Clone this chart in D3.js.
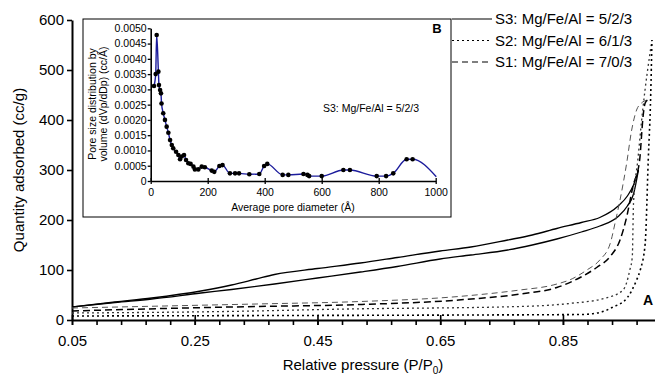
<!DOCTYPE html>
<html>
<head>
<meta charset="utf-8">
<script src="https://cdn.jsdelivr.net/npm/d3@7"></script>
<style>
  body { margin: 0; background: #fff; }
  svg { display: block; font-family: "Liberation Sans", Arial, sans-serif; }
</style>
</head>
<body>
<svg id="chart" width="655" height="381"></svg>
<script>
// main isotherm chart (P/P0, cc/g)
var xTickLabels = [0.05, 0.25, 0.45, 0.65, 0.85];
var yTickLabels = [0, 100, 200, 300, 400, 500, 600];

// S3 solid
var s3Ads = [[0.05,26],[0.12,35],[0.18,42],[0.26,54],[0.31,61],[0.38,72],[0.45,84],[0.52,96],[0.58,107],[0.65,122],[0.70,130],[0.76,140],[0.80,150],[0.84,162],[0.88,176],[0.91,188],[0.94,207],[0.955,228],[0.965,252],[0.973,300]];
var s3Des = [[0.05,26],[0.12,36],[0.18,44],[0.26,58],[0.31,70],[0.35,82],[0.38,91],[0.45,103],[0.52,114],[0.58,125],[0.65,138],[0.70,146],[0.76,160],[0.80,170],[0.84,183],[0.88,195],[0.91,205],[0.94,228],[0.955,248],[0.965,270],[0.973,300]];
// S1 dashed
var s1Des = [[0.05,24],[0.2,28],[0.35,32],[0.52,37],[0.68,47],[0.78,60],[0.834,70],[0.866,83],[0.889,100],[0.91,120],[0.927,153],[0.936,200],[0.943,240],[0.954,315],[0.962,380],[0.97,420],[0.978,434],[0.988,440]];
var s1Ads = [[0.05,18],[0.2,23],[0.35,27],[0.52,31],[0.68,40],[0.78,52],[0.84,65],[0.878,85],[0.905,105],[0.927,127],[0.943,160],[0.954,207],[0.964,267],[0.975,320],[0.978,367],[0.98,400],[0.984,434],[0.988,440]];
// S2 dotted
var s2Des = [[0.05,14],[0.3,17],[0.5,22],[0.78,27],[0.86,33],[0.92,44],[0.948,60],[0.959,100],[0.963,126],[0.965,234],[0.972,320],[0.98,420],[0.995,560]];
var s2Ads = [[0.05,8],[0.4,9],[0.7,10],[0.88,11],[0.91,15],[0.93,25],[0.955,45],[0.97,80],[0.976,100],[0.984,153],[0.989,320],[0.993,450],[0.995,560]];

var legendNames = ["S3: Mg/Fe/Al = 5/2/3", "S2: Mg/Fe/Al = 6/1/3", "S1: Mg/Fe/Al = 7/0/3"];

// inset: pore size distribution of S3
var poreDiam = [11.6,17.5,21,27,29,33,36,38,44,50,56,62,68,74,79,89,97,103,109,117,124,132,140,150,155,167,179,190,214,223,241,252,278,296,310,346,381,398,409,463,483,536,550,556,600,676,699,793,826,851,898,919,1002];
var poreVol = [0.00311,0.0035,0.00478,0.00358,0.00314,0.00298,0.00287,0.00254,0.00222,0.002,0.00178,0.00158,0.00134,0.00118,0.00107,0.00096,0.00085,0.00071,0.0008,0.00085,0.00069,0.00058,0.00056,0.00047,0.00038,0.00038,0.00047,0.00045,0.00034,0.0003,0.00049,0.00052,0.00025,0.00025,0.00025,0.00022,0.00023,0.00049,0.00056,0.0002,0.0002,0.00023,0.0002,0.00016,0.00016,0.00036,0.00036,0.00016,0.00016,0.00025,0.00071,0.00071,0.00014];
var insetXTicks = [0, 200, 400, 600, 800, 1000];
var insetYTicks = [0, 0.0005, 0.001, 0.0015, 0.002, 0.0025, 0.003, 0.0035, 0.004, 0.0045, 0.005];

var svg = d3.select("#chart");

var x = d3.scaleLinear().domain([0.05, 1.0]).range([72, 655]);
var y = d3.scaleLinear().domain([0, 600]).range([320, 20]);

var line = d3.line()
  .x(function(d){ return x(d[0]); })
  .y(function(d){ return y(d[1]); })
  .curve(d3.curveMonotoneX);

// x axis, minor ticks every 0.04
var minor = d3.range(0.05, 0.99, 0.04);
svg.append("g")
  .attr("transform", "translate(0,320)")
  .call(d3.axisBottom(x).tickValues(minor).tickSize(5).tickSizeOuter(0).tickFormat(""))
  .call(function(g){
    g.select(".domain").attr("stroke-width", 2);
    g.selectAll(".tick line").attr("stroke-width", 1.6);
  });
svg.append("g")
  .attr("transform", "translate(0,320)")
  .call(d3.axisBottom(x).tickValues(xTickLabels).tickSize(5).tickSizeOuter(0).tickFormat(d3.format(".2f")))
  .call(function(g){
    g.select(".domain").remove();
    g.selectAll(".tick line").attr("y1", -5).attr("stroke-width", 1.6);
    g.selectAll(".tick text").attr("y", 15).attr("font-size", 15).attr("fill", "#000");
  });

svg.append("g")
  .attr("transform", "translate(72,0)")
  .call(d3.axisLeft(y).tickValues(yTickLabels).tickSize(5).tickSizeOuter(0))
  .call(function(g){
    g.select(".domain").attr("stroke-width", 2);
    g.selectAll(".tick line").attr("stroke-width", 1.6);
    g.selectAll(".tick text").attr("x", -8).attr("font-size", 15).attr("fill", "#000");
  });

// axis titles
svg.append("text")
  .attr("transform", "translate(24,170) rotate(-90)")
  .attr("text-anchor", "middle")
  .attr("font-size", 15)
  .text("Quantity adsorbed (cc/g)");

var xt = svg.append("text")
  .attr("x", 363).attr("y", 370)
  .attr("text-anchor", "middle")
  .attr("font-size", 15)
  .text("Relative pressure (P/P");
xt.append("tspan").attr("font-size", 10).attr("dy", 4).text("0");
xt.append("tspan").attr("dy", -4).text(")");

// isotherm curves
var curves = [
  { d: s3Ads, dash: null, color: "#000", w: 1.3 },
  { d: s3Des, dash: null, color: "#000", w: 1.3 },
  { d: s1Des, dash: "6,4", color: "#555", w: 1 },
  { d: s1Ads, dash: "7,4", color: "#000", w: 1.5 },
  { d: s2Des, dash: "2,3", color: "#333", w: 1.3 },
  { d: s2Ads, dash: "2,3", color: "#000", w: 1.6 }
];
svg.append("g").selectAll("path")
  .data(curves)
  .enter().append("path")
  .attr("fill", "none")
  .attr("stroke", function(c){ return c.color; })
  .attr("stroke-width", function(c){ return c.w; })
  .attr("stroke-dasharray", function(c){ return c.dash; })
  .attr("d", function(c){ return line(c.d); });

svg.append("text")
  .attr("x", 648).attr("y", 305)
  .attr("text-anchor", "middle")
  .attr("font-size", 14).attr("font-weight", "bold")
  .text("A");

// legend
var dashes = [null, "2,3", "6,4"];
var leg = svg.append("g").selectAll("g")
  .data(legendNames)
  .enter().append("g")
  .attr("transform", function(d, i){ return "translate(0," + (19 + i * 21.5) + ")"; });
leg.append("line")
  .attr("x1", 452).attr("x2", 492)
  .attr("stroke", "#000").attr("stroke-width", 1.2)
  .attr("stroke-dasharray", function(d, i){ return dashes[i]; });
leg.append("text")
  .attr("x", 495).attr("y", 5)
  .attr("font-size", 15)
  .text(function(d){ return d; });

// inset
var inset = svg.append("g");
inset.append("rect")
  .attr("x", 83).attr("y", 19).attr("width", 368).attr("height", 198)
  .attr("fill", "#fff").attr("stroke", "#000").attr("stroke-width", 1);

var ix = d3.scaleLinear().domain([0, 1000]).range([150.7, 435.7]);
var iy = d3.scaleLinear().domain([0, 0.005]).range([181, 28.3]);

inset.append("g")
  .attr("transform", "translate(0,181)")
  .call(d3.axisBottom(ix).tickValues(insetXTicks).tickSize(3).tickSizeOuter(0).tickFormat(d3.format("d")))
  .call(function(g){
    g.select(".domain").attr("stroke-width", 1.6);
    g.selectAll(".tick line").attr("y1", -3).attr("stroke-width", 1.3);
    g.selectAll(".tick text").attr("y", 8).attr("font-size", 10.5).attr("fill", "#000");
  });
inset.append("g")
  .attr("transform", "translate(150.7,0)")
  .call(d3.axisLeft(iy).tickValues(insetYTicks).tickSize(3).tickSizeOuter(0)
    .tickFormat(function(d){ return d === 0 ? "0" : d3.format(".4f")(d); }))
  .call(function(g){
    g.select(".domain").attr("stroke-width", 1.6);
    g.selectAll(".tick line").attr("stroke-width", 1.3);
    g.selectAll(".tick text").attr("x", -4).attr("font-size", 10.5).attr("fill", "#000");
  });

var pore = poreDiam.map(function(d, i){ return [d, poreVol[i]]; });
inset.append("path")
  .datum(pore)
  .attr("fill", "none")
  .attr("stroke", "#1c1c9c")
  .attr("stroke-width", 1.4)
  .attr("d", d3.line()
    .x(function(d){ return ix(d[0]); })
    .y(function(d){ return iy(d[1]); })
    .curve(d3.curveMonotoneX));
inset.append("g").selectAll("circle")
  .data(pore.slice(0, pore.length - 1))
  .enter().append("circle")
  .attr("cx", function(d){ return ix(d[0]); })
  .attr("cy", function(d){ return iy(d[1]); })
  .attr("r", 2.3)
  .attr("fill", "#000");

inset.append("text")
  .attr("x", 293).attr("y", 211)
  .attr("text-anchor", "middle").attr("font-size", 10.5)
  .text("Average pore diameter (\u00C5)");
var iyt = inset.append("text")
  .attr("transform", "translate(0,104) rotate(-90)")
  .attr("text-anchor", "middle").attr("font-size", 10.5);
iyt.append("tspan").attr("x", 0).attr("y", 95.5).text("Pore size distribution by");
iyt.append("tspan").attr("x", 0).attr("y", 107).text("volume (dVp/dDp) (cc/\u00C5)");

inset.append("text")
  .attr("x", 323).attr("y", 112)
  .attr("font-size", 10.5)
  .text("S3: Mg/Fe/Al = 5/2/3");
inset.append("text")
  .attr("x", 437).attr("y", 33)
  .attr("text-anchor", "middle")
  .attr("font-size", 13).attr("font-weight", "bold")
  .text("B");
</script>
</body>
</html>
